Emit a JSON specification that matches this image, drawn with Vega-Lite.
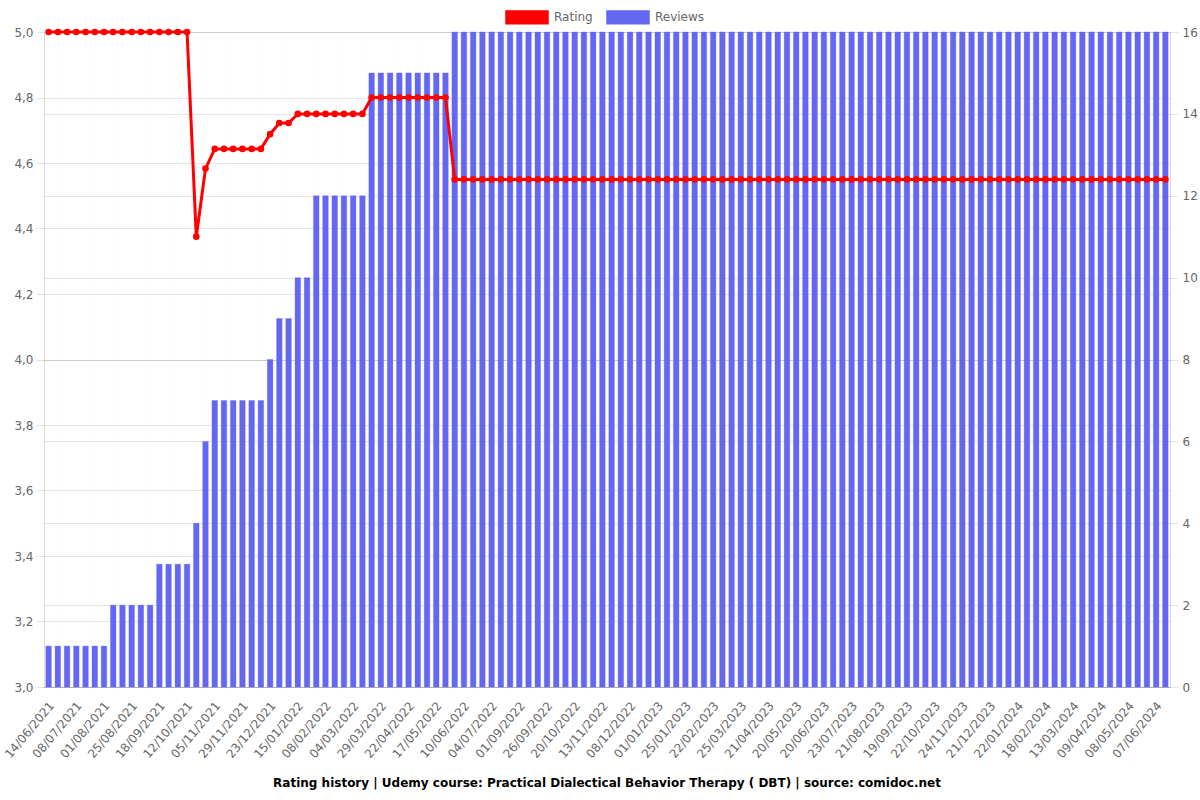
{
"$schema": "https://vega.github.io/schema/vega-lite/v6.json",
"width": 1126,
"height": 655,
"autosize": {"type": "none"},
"padding": {"left": 44, "top": 32, "right": 30, "bottom": 113},
"background": "white",
"config": {
  "view": {"stroke": null},
  "font": "DejaVu Sans",
  "axis": {
    "labelColor": "#666666",
    "labelFontSize": 12,
    "labelFont": "DejaVu Sans",
    "gridColor": "#000000",
    "gridOpacity": 0.1,
    "tickColor": "#000000",
    "tickOpacity": 0.1,
    "tickSize": 8,
    "domainColor": "#000000",
    "domainOpacity": 0.15,
    "title": null
  }
},
"title": {
  "text": "Rating history | Udemy course: Practical Dialectical Behavior Therapy ( DBT) | source: comidoc.net",
  "orient": "bottom",
  "anchor": "middle",
  "font": "DejaVu Sans",
  "fontSize": 12,
  "fontWeight": "bold",
  "color": "#000000",
  "offset": 18
},
"data": {"values": [
{"date":"14/06/2021","reviews":1,"rating":5},
{"date":"22/06/2021","reviews":1,"rating":5},
{"date":"30/06/2021","reviews":1,"rating":5},
{"date":"08/07/2021","reviews":1,"rating":5},
{"date":"16/07/2021","reviews":1,"rating":5},
{"date":"24/07/2021","reviews":1,"rating":5},
{"date":"01/08/2021","reviews":1,"rating":5},
{"date":"09/08/2021","reviews":2,"rating":5},
{"date":"17/08/2021","reviews":2,"rating":5},
{"date":"25/08/2021","reviews":2,"rating":5},
{"date":"02/09/2021","reviews":2,"rating":5},
{"date":"10/09/2021","reviews":2,"rating":5},
{"date":"18/09/2021","reviews":3,"rating":5},
{"date":"26/09/2021","reviews":3,"rating":5},
{"date":"04/10/2021","reviews":3,"rating":5},
{"date":"12/10/2021","reviews":3,"rating":5},
{"date":"20/10/2021","reviews":4,"rating":4.375},
{"date":"28/10/2021","reviews":6,"rating":4.583},
{"date":"05/11/2021","reviews":7,"rating":4.643},
{"date":"13/11/2021","reviews":7,"rating":4.643},
{"date":"21/11/2021","reviews":7,"rating":4.643},
{"date":"29/11/2021","reviews":7,"rating":4.643},
{"date":"07/12/2021","reviews":7,"rating":4.643},
{"date":"15/12/2021","reviews":7,"rating":4.643},
{"date":"23/12/2021","reviews":8,"rating":4.688},
{"date":"31/12/2021","reviews":9,"rating":4.722},
{"date":"07/01/2022","reviews":9,"rating":4.722},
{"date":"15/01/2022","reviews":10,"rating":4.75},
{"date":"23/01/2022","reviews":10,"rating":4.75},
{"date":"31/01/2022","reviews":12,"rating":4.75},
{"date":"08/02/2022","reviews":12,"rating":4.75},
{"date":"16/02/2022","reviews":12,"rating":4.75},
{"date":"24/02/2022","reviews":12,"rating":4.75},
{"date":"04/03/2022","reviews":12,"rating":4.75},
{"date":"12/03/2022","reviews":12,"rating":4.75},
{"date":"20/03/2022","reviews":15,"rating":4.8},
{"date":"29/03/2022","reviews":15,"rating":4.8},
{"date":"06/04/2022","reviews":15,"rating":4.8},
{"date":"14/04/2022","reviews":15,"rating":4.8},
{"date":"22/04/2022","reviews":15,"rating":4.8},
{"date":"30/04/2022","reviews":15,"rating":4.8},
{"date":"08/05/2022","reviews":15,"rating":4.8},
{"date":"17/05/2022","reviews":15,"rating":4.8},
{"date":"25/05/2022","reviews":15,"rating":4.8},
{"date":"02/06/2022","reviews":16,"rating":4.55},
{"date":"10/06/2022","reviews":16,"rating":4.55},
{"date":"18/06/2022","reviews":16,"rating":4.55},
{"date":"26/06/2022","reviews":16,"rating":4.55},
{"date":"04/07/2022","reviews":16,"rating":4.55},
{"date":"24/07/2022","reviews":16,"rating":4.55},
{"date":"12/08/2022","reviews":16,"rating":4.55},
{"date":"01/09/2022","reviews":16,"rating":4.55},
{"date":"09/09/2022","reviews":16,"rating":4.55},
{"date":"17/09/2022","reviews":16,"rating":4.55},
{"date":"26/09/2022","reviews":16,"rating":4.55},
{"date":"04/10/2022","reviews":16,"rating":4.55},
{"date":"12/10/2022","reviews":16,"rating":4.55},
{"date":"20/10/2022","reviews":16,"rating":4.55},
{"date":"28/10/2022","reviews":16,"rating":4.55},
{"date":"05/11/2022","reviews":16,"rating":4.55},
{"date":"13/11/2022","reviews":16,"rating":4.55},
{"date":"21/11/2022","reviews":16,"rating":4.55},
{"date":"29/11/2022","reviews":16,"rating":4.55},
{"date":"08/12/2022","reviews":16,"rating":4.55},
{"date":"16/12/2022","reviews":16,"rating":4.55},
{"date":"24/12/2022","reviews":16,"rating":4.55},
{"date":"01/01/2023","reviews":16,"rating":4.55},
{"date":"09/01/2023","reviews":16,"rating":4.55},
{"date":"17/01/2023","reviews":16,"rating":4.55},
{"date":"25/01/2023","reviews":16,"rating":4.55},
{"date":"03/02/2023","reviews":16,"rating":4.55},
{"date":"12/02/2023","reviews":16,"rating":4.55},
{"date":"22/02/2023","reviews":16,"rating":4.55},
{"date":"04/03/2023","reviews":16,"rating":4.55},
{"date":"14/03/2023","reviews":16,"rating":4.55},
{"date":"25/03/2023","reviews":16,"rating":4.55},
{"date":"03/04/2023","reviews":16,"rating":4.55},
{"date":"12/04/2023","reviews":16,"rating":4.55},
{"date":"21/04/2023","reviews":16,"rating":4.55},
{"date":"01/05/2023","reviews":16,"rating":4.55},
{"date":"10/05/2023","reviews":16,"rating":4.55},
{"date":"20/05/2023","reviews":16,"rating":4.55},
{"date":"30/05/2023","reviews":16,"rating":4.55},
{"date":"09/06/2023","reviews":16,"rating":4.55},
{"date":"20/06/2023","reviews":16,"rating":4.55},
{"date":"01/07/2023","reviews":16,"rating":4.55},
{"date":"12/07/2023","reviews":16,"rating":4.55},
{"date":"23/07/2023","reviews":16,"rating":4.55},
{"date":"02/08/2023","reviews":16,"rating":4.55},
{"date":"11/08/2023","reviews":16,"rating":4.55},
{"date":"21/08/2023","reviews":16,"rating":4.55},
{"date":"31/08/2023","reviews":16,"rating":4.55},
{"date":"09/09/2023","reviews":16,"rating":4.55},
{"date":"19/09/2023","reviews":16,"rating":4.55},
{"date":"30/09/2023","reviews":16,"rating":4.55},
{"date":"11/10/2023","reviews":16,"rating":4.55},
{"date":"22/10/2023","reviews":16,"rating":4.55},
{"date":"02/11/2023","reviews":16,"rating":4.55},
{"date":"13/11/2023","reviews":16,"rating":4.55},
{"date":"24/11/2023","reviews":16,"rating":4.55},
{"date":"03/12/2023","reviews":16,"rating":4.55},
{"date":"12/12/2023","reviews":16,"rating":4.55},
{"date":"21/12/2023","reviews":16,"rating":4.55},
{"date":"01/01/2024","reviews":16,"rating":4.55},
{"date":"11/01/2024","reviews":16,"rating":4.55},
{"date":"22/01/2024","reviews":16,"rating":4.55},
{"date":"31/01/2024","reviews":16,"rating":4.55},
{"date":"09/02/2024","reviews":16,"rating":4.55},
{"date":"18/02/2024","reviews":16,"rating":4.55},
{"date":"26/02/2024","reviews":16,"rating":4.55},
{"date":"05/03/2024","reviews":16,"rating":4.55},
{"date":"13/03/2024","reviews":16,"rating":4.55},
{"date":"22/03/2024","reviews":16,"rating":4.55},
{"date":"31/03/2024","reviews":16,"rating":4.55},
{"date":"09/04/2024","reviews":16,"rating":4.55},
{"date":"19/04/2024","reviews":16,"rating":4.55},
{"date":"28/04/2024","reviews":16,"rating":4.55},
{"date":"08/05/2024","reviews":16,"rating":4.55},
{"date":"18/05/2024","reviews":16,"rating":4.55},
{"date":"28/05/2024","reviews":16,"rating":4.55},
{"date":"07/06/2024","reviews":16,"rating":4.55},
{"date":"17/06/2024","reviews":16,"rating":4.55}
]},
"layer": [
  {
    "mark": {"type": "bar", "width": {"band": 0.6}, "stroke": "#6467f2", "strokeOpacity": 0.35, "strokeWidth": 1},
    "encoding": {
      "x": {
        "field": "date", "type": "nominal", "sort": null,
        "scale": {"type": "band", "paddingInner": 0, "paddingOuter": 0},
        "axis": {
          "values": ["14/06/2021","08/07/2021","01/08/2021","25/08/2021","18/09/2021","12/10/2021","05/11/2021","29/11/2021","23/12/2021","15/01/2022","08/02/2022","04/03/2022","29/03/2022","22/04/2022","17/05/2022","10/06/2022","04/07/2022","01/09/2022","26/09/2022","20/10/2022","13/11/2022","08/12/2022","01/01/2023","25/01/2023","22/02/2023","25/03/2023","21/04/2023","20/05/2023","20/06/2023","23/07/2023","21/08/2023","19/09/2023","22/10/2023","24/11/2023","21/12/2023","22/01/2024","18/02/2024","13/03/2024","09/04/2024","08/05/2024","07/06/2024"],
          "labelAngle": -50,
          "labelAlign": "right",
          "labelBaseline": "middle",
          "labelPadding": 8,
          "tickOffset": -13.84,
          "labelOffset": 16.5,
          "grid": true,
          "gridOpacity": {"condition": {"test": "datum.value === '14/06/2021'", "value": 0}, "value": 0.1},
          "tickOpacity": {"condition": {"test": "datum.value === '14/06/2021'", "value": 0}, "value": 0.1}
        }
      },
      "y": {
        "field": "reviews", "type": "quantitative",
        "scale": {"domain": [0, 16], "nice": false},
        "axis": {"orient": "right", "values": [0,2,4,6,8,10,12,14,16], "grid": true, "labelPadding": 4}
      },
      "color": {
        "datum": "Reviews",
        "scale": {"domain": ["Rating", "Reviews"], "range": ["#ff0000", "#6467f2"]},
        "legend": {
          "title": null,
          "orient": "none",
          "direction": "horizontal",
          "legendX": 461,
          "legendY": -37,
          "symbolType": "M-1,-0.3H1V0.3H-1Z",
          "symbolSize": 1764,
          "labelFont": "DejaVu Sans",
          "labelFontSize": 12,
          "labelColor": "#666666",
          "labelOffset": 5,
          "columnPadding": 11,
          "encode": {"symbols": {"update": {"fill": {"scale": "color", "field": "value"}, "stroke": {"scale": "color", "field": "value"}, "strokeWidth": {"value": 1}, "opacity": {"value": 1}, "fillOpacity": {"value": 1}}}}
        }
      }
    }
  },
  {
    "mark": {"type": "line", "strokeWidth": 3, "point": {"filled": true, "size": 44}},
    "encoding": {
      "x": {"field": "date", "type": "nominal", "sort": null},
      "y": {
        "field": "rating", "type": "quantitative",
        "scale": {"domain": [3, 5], "nice": false},
        "axis": {"orient": "left", "values": [3,3.2,3.4,3.6,3.8,4,4.2,4.4,4.6,4.8,5], "grid": true, "labelPadding": 3, "labelExpr": "replace(format(datum.value, '.1f'), '.', ',')"}
      },
      "color": {"datum": "Rating"}
    }
  }
],
"resolve": {"scale": {"y": "independent"}}
}
